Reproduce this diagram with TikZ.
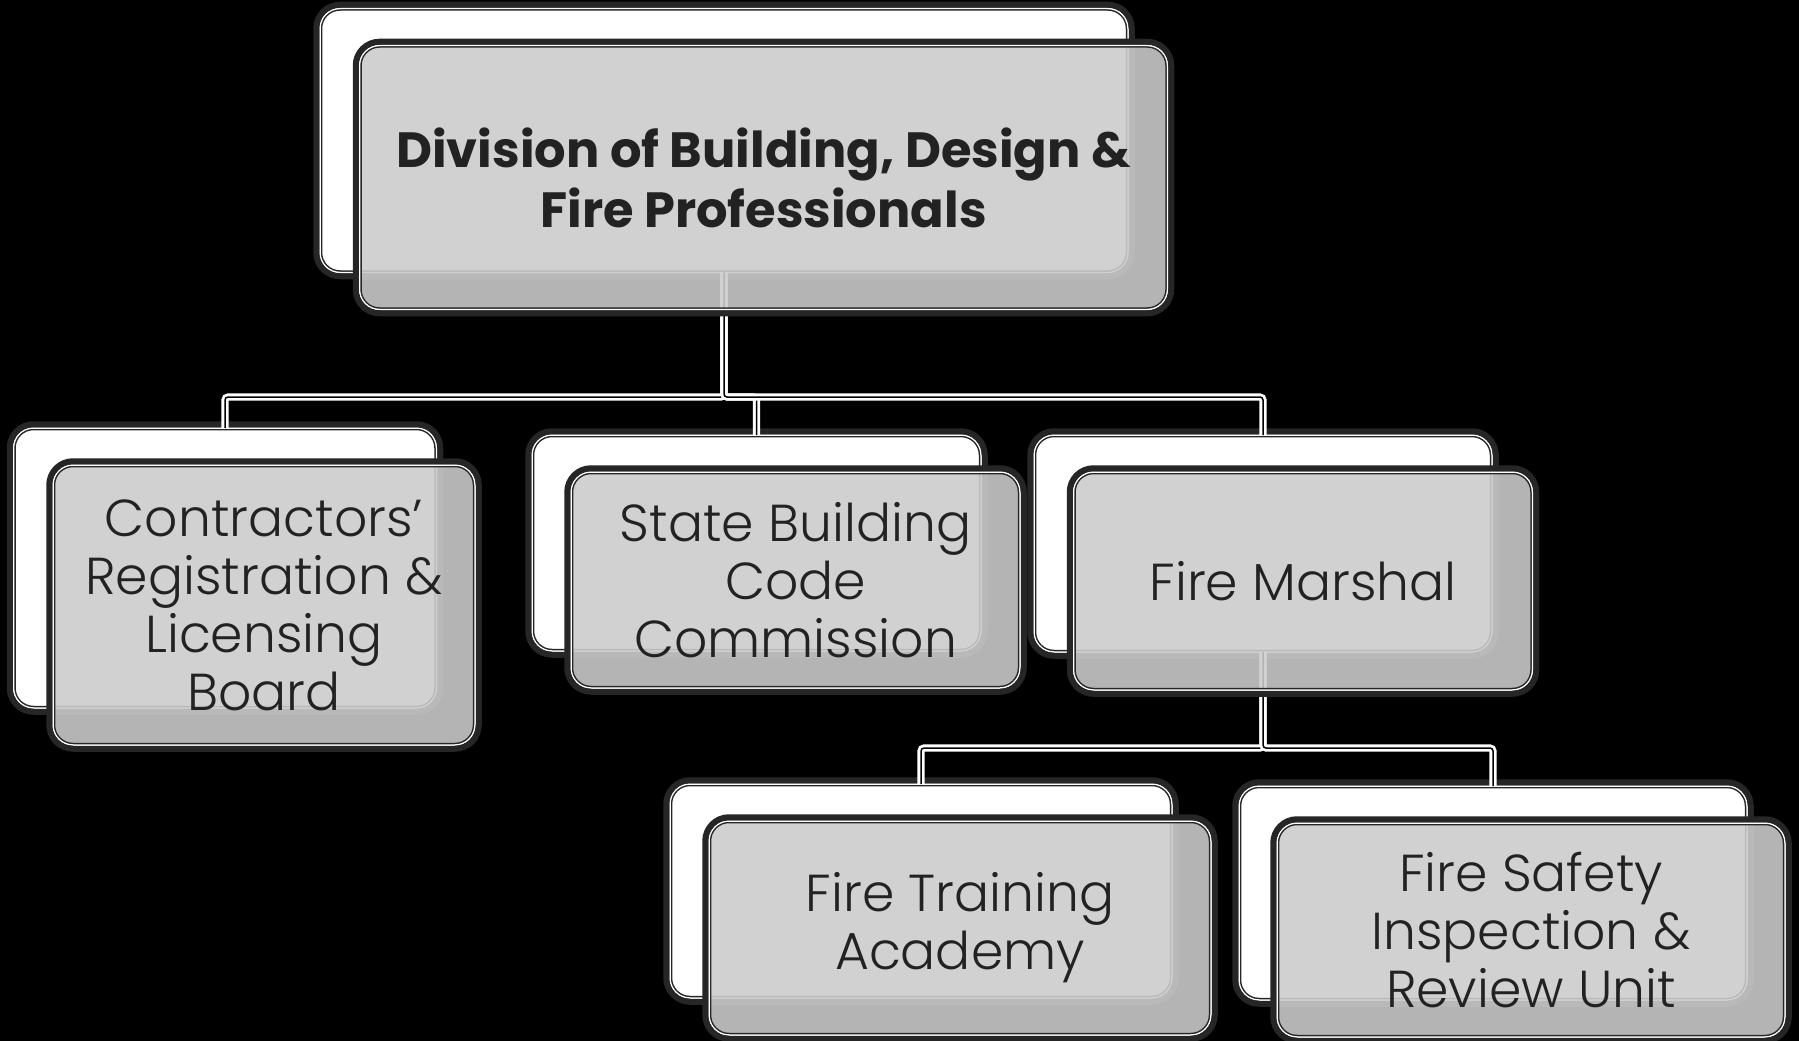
\documentclass[tikz,border=0pt]{standalone}
\usepackage{fontspec}
\setmainfont{Poppins}[UprightFont=* Light, BoldFont=* Bold]
\usepackage{tikz}
\usetikzlibrary{positioning}
\definecolor{boxrim}{RGB}{38,38,38}
\definecolor{frontgray}{RGB}{204,204,204}
\definecolor{txtgray}{RGB}{34,34,34}
\def\unitfont{\fontsize{52pt}{58pt}\selectfont}
\def\headfont{\bfseries\fontsize{49.5pt}{60pt}\selectfont}

\begin{document}
\begin{tikzpicture}[x=1pt, y=-1pt,
	card/.style={draw=boxrim, double=white, line width=1.5pt, double distance=1.5pt, rounded corners=20pt, inner sep=0pt, outer sep=0pt},
	backbox/.style={card, fill=white},
	frontbox/.style={card, fill=frontgray, fill opacity=0.886, text opacity=1, text=txtgray, align=center, font=\unitfont},
	rim/.style={draw=boxrim, line width=6pt, rounded corners=23.75pt},
	link/.style={draw=white, double=black, line width=2.8pt, double distance=1.5pt, rounded corners=3pt}]
	\fill[black] (0,0) rectangle (1799,1041);
	\clip (0,0) rectangle (1799,1041);
	% back cards
	\node[backbox, minimum width=808, minimum height=264] (dbdBack) at (724,140.5) {};
	\node[backbox, minimum width=423, minimum height=280] (crlbBack) at (225,568) {};
	\node[backbox, minimum width=449, minimum height=216] (sbccBack) at (756.5,543) {};
	\node[backbox, minimum width=458, minimum height=217] (fmBack) at (1263,543.5) {};
	\node[backbox, minimum width=502, minimum height=214] (ftaBack) at (921,891) {};
	\node[backbox, minimum width=508, minimum height=214] (fsirBack) at (1493,893) {};
	\foreach \n in {dbdBack,crlbBack,sbccBack,fmBack,ftaBack,fsirBack}
		\draw[rim] ([shift={(-3.75,-3.75)}]\n.north west) rectangle ([shift={(3.75,3.75)}]\n.south east);
	% connectors
	\coordinate (bus) at (0,397);
	\coordinate (fmbus) at (0,748);
	\draw[link] (dbdBack.south) -- (dbdBack.south |- bus) -| (crlbBack.north);
	\draw[link] (dbdBack.south) -- (dbdBack.south |- bus) -| (sbccBack.north);
	\draw[link] (dbdBack.south) -- (dbdBack.south |- bus) -| (fmBack.north);
	\draw[link] (fmBack.south) -- (fmBack.south |- fmbus) -| (ftaBack.north);
	\draw[link] (fmBack.south) -- (fmBack.south |- fmbus) -| (fsirBack.north);
	% front cards
	\node[frontbox, minimum width=808, minimum height=264, font=\headfont] (dbd) at (763.5,177.5) {Division of Building, Design \&\\Fire Professionals};
	\node[frontbox, minimum width=422, minimum height=280] (crlb) at (264,605) {Contractors’\\Registration \&\\Licensing\\Board};
	\node[frontbox, minimum width=449, minimum height=216] (sbcc) at (795.5,580) {State Building\\Code\\Commission};
	\node[frontbox, minimum width=459, minimum height=218] (fm) at (1303,581) {Fire Marshal};
	\node[frontbox, minimum width=502, minimum height=214] (fta) at (960,928) {Fire Training\\Academy};
	\node[frontbox, minimum width=508, minimum height=214] (fsir) at (1531,930) {Fire Safety\\Inspection \&\\Review Unit};
	\foreach \n in {dbd,crlb,sbcc,fm,fta,fsir}
		\draw[rim] ([shift={(-3.75,-3.75)}]\n.north west) rectangle ([shift={(3.75,3.75)}]\n.south east);
\end{tikzpicture}
\end{document}
